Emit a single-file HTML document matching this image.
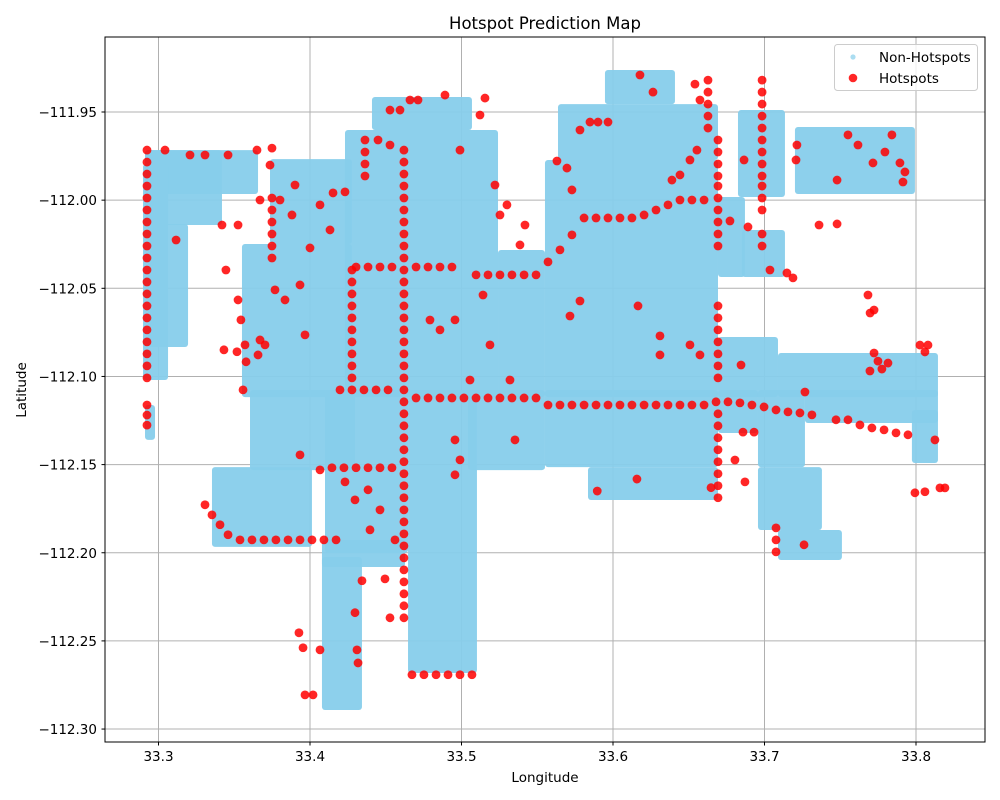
<!DOCTYPE html>
<html>
<head>
<meta charset="utf-8">
<style>
  html,body{margin:0;padding:0;background:#fff;}
  svg{display:block;font-family:"DejaVu Sans","Liberation Sans",sans-serif;}
</style>
</head>
<body>
<svg id="chart" width="1000" height="800" viewBox="0 0 1000 800" xmlns="http://www.w3.org/2000/svg">
  <rect x="0" y="0" width="1000" height="800" fill="#fff"/>
  <text x="545" y="29" text-anchor="middle" font-size="16.5" fill="#000">Hotspot Prediction Map</text>
  <g id="grid"></g>
  <g id="regions"></g>
  <g id="hots"></g>
  <rect x="105" y="37" width="880" height="705" fill="none" stroke="#000" stroke-width="1"/>
  <g id="xticks"></g>
  <g id="yticks"></g>
  <text x="545" y="782" text-anchor="middle" font-size="13.5">Longitude</text>
  <text x="26" y="390" text-anchor="middle" font-size="13.5" transform="rotate(-90 26 390)">Latitude</text>
  <g>
    <rect x="834.5" y="44.5" width="143" height="46" rx="3" fill="#fff" fill-opacity="0.8" stroke="#ccc"/>
    <circle cx="853" cy="57" r="2.6" fill="#87CEEB" fill-opacity="0.7"/>
    <text x="879" y="62" font-size="13.5">Non-Hotspots</text>
    <circle cx="853" cy="78" r="4.3" fill="#ff0000" fill-opacity="0.85"/>
    <text x="879" y="83" font-size="13.5">Hotspots</text>
  </g>
</svg>
<script>
const xTicks = [33.3, 33.4, 33.5, 33.6, 33.7, 33.8];
const xTickLabels = ["33.3", "33.4", "33.5", "33.6", "33.7", "33.8"];
const yTicks = [-111.95, -112.00, -112.05, -112.10, -112.15, -112.20, -112.25, -112.30];
const yTickLabels = ["\u2212111.95", "\u2212112.00", "\u2212112.05", "\u2212112.10", "\u2212112.15", "\u2212112.20", "\u2212112.25", "\u2212112.30"];

// Non-hotspot coverage regions (lon/lat bounds)
const regLon0 = [33.2911,33.2911,33.2898,33.2931,33.2911,33.3736,33.3551,33.3604,33.3353,33.4079,33.4079,33.4231,33.4409,33.5241,33.5551,33.5637,33.5947,33.4099,33.4647,33.5043,33.6825,33.6693,33.6851,33.7201,33.5551,33.5835,33.6693,33.7089,33.6693,33.6957,33.6957,33.7089,33.7267,33.7973];
const regLon1 = [33.3657,33.3419,33.3063,33.3195,33.2977,33.4277,33.4277,33.4297,33.4013,33.4343,33.4627,33.5241,33.5069,33.5551,33.6693,33.6693,33.6409,33.4647,33.5102,33.5551,33.7135,33.6871,33.7135,33.7993,33.6693,33.6693,33.7089,33.8145,33.6957,33.7267,33.7379,33.7511,33.8145,33.8145];
const regLat0 = [-111.9716,-111.9716,-111.9795,-112.0135,-112.1162,-111.9767,-112.0249,-112.1077,-112.1514,-112.2024,-112.1928,-111.9602,-111.9415,-112.0283,-111.9772,-111.9455,-111.9262,-112.1077,-112.1077,-112.1077,-111.9489,-111.9982,-112.0169,-111.9585,-112.1077,-112.1514,-112.0776,-112.0867,-112.1077,-112.1077,-112.1514,-112.1871,-112.1077,-112.1190];
const regLat1 = [-111.9965,-112.0141,-112.1020,-112.0833,-112.1360,-112.0249,-112.1117,-112.1531,-112.1967,-112.2892,-112.2081,-112.1117,-111.9602,-112.1117,-112.1117,-111.9772,-111.9455,-112.2001,-112.2682,-112.1531,-111.9982,-112.0436,-112.0436,-111.9965,-112.1514,-112.1701,-112.1117,-112.1117,-112.1321,-112.1514,-112.1871,-112.2041,-112.1264,-112.1491];

// Hotspot points
const hotLon = [
 // left vertical
 33.2924,33.2924,33.2924,33.2924,33.2924,33.2924,33.2924,33.2924,33.2924,33.2924,33.2924,33.2924,33.2924,33.2924,33.2924,33.2924,33.2924,33.2924,33.2924,33.2924,33.2924,33.2924,33.2924,
 // main vertical
 33.462,33.462,33.462,33.462,33.462,33.462,33.462,33.462,33.462,33.462,33.462,33.462,33.462,33.462,33.462,33.462,33.462,33.462,33.462,33.462,33.462,33.462,33.462,33.462,33.462,33.462,33.462,33.462,33.462,33.462,33.462,33.462,33.462,33.462,33.462,33.462,33.462,33.462,33.462,33.462,
 // upper horizontal
 33.4304,33.4383,33.4462,33.4541,33.4700,33.4779,33.4858,33.4937,
 33.5096,33.5175,33.5254,33.5333,33.5413,33.5492,
 33.5571,33.5650,33.5729,33.5809,33.5888,33.5967,33.6046,33.6125,33.6205,33.6284,33.6363,33.6442,33.6521,33.6601,
 // lower horizontal
 33.4198,33.4277,33.4356,33.4436,33.4515,
 33.4700,33.4779,33.4858,33.4937,33.5016,33.5096,33.5175,33.5254,33.5333,33.5413,33.5492,
 33.5571,33.5650,33.5729,33.5809,33.5888,33.5967,33.6046,33.6125,33.6205,33.6284,33.6363,33.6442,33.6521,33.6601,33.6680,33.6759,33.6838,33.6917,33.6997,33.7076,33.7155,33.7234,33.7313,33.7472,33.7551,33.7630,33.7709,33.7789,33.7868,33.7947,
 // vertical at 33.669
 33.6693,33.6693,33.6693,33.6693,33.6693,33.6693,33.6693,33.6693,33.6693,33.6693,33.6693,33.6693,33.6693,33.6693,33.6693,
 // vertical at 33.698
 33.6984,33.6984,33.6984,33.6984,33.6984,33.6984,33.6984,33.6984,33.6984,33.6984,33.6984,33.6984,33.6984,33.6984,
 // verticals near 33.66
 33.6627,33.6627,33.6627,33.6627,33.6627,
 33.6693,33.6693,33.6693,33.6693,33.6693,33.6693,33.6693,33.6693,33.6693,33.6693,
 // vertical 33.428
 33.4277,33.4277,33.4277,33.4277,33.4277,33.4277,33.4277,33.4277,33.4277,33.4277,
 33.4363,33.4363,33.4363,33.4363,
 33.3749,33.3749,33.3749,33.3749,33.3749,33.3749,
 // bottom curve
 33.3538,33.3617,33.3696,33.3775,33.3855,33.3934,33.4013,33.4092,33.4172,33.3307,33.3353,33.3406,33.3459,
 // bottom row
 33.4673,33.4752,33.4832,33.4911,33.4990,33.5069,
 // row 468
 33.4145,33.4224,33.4304,33.4383,33.4462,33.4541,
 // right bottom column
 33.7076,33.7076,33.7076,33.7261,
 33.8125,33.8158,33.7993,33.8059,33.8191,
 // right top cluster
 33.7551,33.7617,33.7716,33.7841,33.7894,33.7927,33.7914,33.7795,
 33.7214,33.7479,33.7479,33.7360,
 // top left
 33.3043,33.3208,33.3307,33.3459,33.3650,33.3749,33.3736,
 // top central
 33.4660,33.4713,33.4528,33.4594,33.4891,33.5155,33.5122,33.4449,33.4528,33.4990,33.5221,
 // top right block
 33.6178,33.6264,33.6541,33.6574,33.5848,33.5901,33.5967,33.5782,33.6554,33.6508,33.6442,33.6389,33.5630,33.5696,33.5729,33.6865,33.7208,
 // right middle
 33.6772,33.6891,33.7148,33.7036,33.7188,33.7697,33.7723,33.7683,
 33.7723,33.7749,33.7775,33.7815,33.7696,33.8026,33.8079,33.8059,
 33.6310,33.6574,33.7267,33.6508,33.6845,
 // left-middle scatter
 33.3419,33.3525,33.3116,33.3445,33.3525,33.3578,33.3558,33.3432,33.3703,33.3518,33.4000,33.4132,33.4066,33.4152,33.4231,33.3901,33.3802,33.3670,33.3881,33.3769,33.3835,33.3967,33.3934,33.3670,33.3571,33.3657,33.3544,
 // lower-middle scatter
 33.3934,33.4066,33.4231,33.4297,33.4383,33.4462,33.4396,33.4561,33.4495,33.4528,33.4343,33.4297,33.3927,33.3954,33.4066,33.3967,33.4020,33.4310,33.4317,
 // central scatter
 33.4792,33.4858,33.4957,33.5188,33.5056,33.5320,33.5142,33.5386,33.5419,33.5254,33.5300,33.4957,33.4990,33.4957,33.5353,33.5716,33.5782,33.6165,33.6310,
 // lower right scatter
 33.6158,33.6858,33.6931,33.6805,33.6871,33.5896,33.6647
];
const hotLat = [
 -111.9716,-111.9784,-111.9852,-111.9920,-111.9988,-112.0056,-112.0124,-112.0192,-112.0260,-112.0328,-112.0396,-112.0464,-112.0532,-112.0600,-112.0668,-112.0736,-112.0804,-112.0872,-112.0940,-112.1008,-112.1162,-112.1219,-112.1276,
 -111.9716,-111.9784,-111.9852,-111.9920,-111.9988,-112.0056,-112.0124,-112.0192,-112.0260,-112.0328,-112.0396,-112.0464,-112.0532,-112.0600,-112.0668,-112.0736,-112.0804,-112.0872,-112.0940,-112.1008,-112.1076,-112.1144,-112.1212,-112.1280,-112.1348,-112.1416,-112.1484,-112.1552,-112.1620,-112.1688,-112.1757,-112.1825,-112.1893,-112.1961,-112.2029,-112.2097,-112.2165,-112.2233,-112.2301,-112.2369,
 -112.0379,-112.0379,-112.0379,-112.0379,-112.0379,-112.0379,-112.0379,-112.0379,
 -112.0424,-112.0424,-112.0424,-112.0424,-112.0424,-112.0424,
 -112.0350,-112.0282,-112.0197,-112.0101,-112.0101,-112.0101,-112.0101,-112.0101,-112.0084,-112.0056,-112.0027,-111.9999,-111.9999,-111.9999,
 -112.1076,-112.1076,-112.1076,-112.1076,-112.1076,
 -112.1122,-112.1122,-112.1122,-112.1122,-112.1122,-112.1122,-112.1122,-112.1122,-112.1122,-112.1122,-112.1122,
 -112.1162,-112.1162,-112.1162,-112.1162,-112.1162,-112.1162,-112.1162,-112.1162,-112.1162,-112.1162,-112.1162,-112.1162,-112.1162,-112.1162,-112.1144,-112.1144,-112.1150,-112.1162,-112.1173,-112.1190,-112.1201,-112.1207,-112.1218,-112.1246,-112.1246,-112.1275,-112.1292,-112.1303,-112.1320,-112.1331,
 -112.0600,-112.0668,-112.0736,-112.0804,-112.0872,-112.0940,-112.1008,-112.1212,-112.1280,-112.1348,-112.1416,-112.1484,-112.1552,-112.1620,-112.1688,
 -111.9319,-111.9387,-111.9455,-111.9523,-111.9591,-111.9659,-111.9727,-111.9795,-111.9863,-111.9920,-111.9988,-112.0056,-112.0192,-112.0260,
 -111.9319,-111.9387,-111.9455,-111.9523,-111.9591,
 -111.9659,-111.9727,-111.9795,-111.9863,-111.9920,-111.9988,-112.0056,-112.0124,-112.0192,-112.0260,
 -112.0396,-112.0464,-112.0532,-112.0600,-112.0668,-112.0736,-112.0804,-112.0872,-112.0940,-112.1008,
 -111.9659,-111.9727,-111.9795,-111.9863,
 -111.9988,-112.0056,-112.0124,-112.0192,-112.0260,-112.0328,
 -112.1927,-112.1927,-112.1927,-112.1927,-112.1927,-112.1927,-112.1927,-112.1927,-112.1927,-112.1728,-112.1785,-112.1841,-112.1898,
 -112.2692,-112.2692,-112.2692,-112.2692,-112.2692,-112.2692,
 -112.1518,-112.1518,-112.1518,-112.1518,-112.1518,-112.1518,
 -112.1859,-112.1927,-112.1995,-112.1955,
 -112.1360,-112.1632,-112.1660,-112.1654,-112.1632,
 -111.9630,-111.9687,-111.9789,-111.9630,-111.9789,-111.9840,-111.9897,-111.9727,
 -111.9687,-111.9886,-112.0135,-112.0141,
 -111.9716,-111.9744,-111.9744,-111.9744,-111.9716,-111.9705,-111.9801,
 -111.9432,-111.9432,-111.9489,-111.9489,-111.9404,-111.9421,-111.9517,-111.9659,-111.9687,-111.9716,-111.9914,
 -111.9290,-111.9387,-111.9342,-111.9432,-111.9557,-111.9557,-111.9557,-111.9602,-111.9716,-111.9772,-111.9857,-111.9886,-111.9778,-111.9818,-111.9942,-111.9772,-111.9772,
 -112.0118,-112.0152,-112.0413,-112.0396,-112.0441,-112.0640,-112.0623,-112.0538,
 -112.0867,-112.0913,-112.0958,-112.0924,-112.0969,-112.0822,-112.0822,-112.0861,
 -112.0878,-112.0878,-112.1088,-112.0821,-112.0935,
 -112.0141,-112.0141,-112.0226,-112.0396,-112.0566,-112.0917,-112.1076,-112.0849,-112.0821,-112.0860,-112.0271,-112.0169,-112.0027,-111.9959,-111.9953,-111.9914,-111.9999,-111.9999,-112.0084,-112.0509,-112.0566,-112.0764,-112.0481,-112.0793,-112.0821,-112.0878,-112.0679,
 -112.1445,-112.1530,-112.1598,-112.1700,-112.1643,-112.1757,-112.1870,-112.1927,-112.2148,-112.2369,-112.2159,-112.2340,-112.2454,-112.2539,-112.2551,-112.2806,-112.2806,-112.2551,-112.2625,
 -112.0680,-112.0736,-112.0679,-112.0821,-112.1020,-112.1020,-112.0538,-112.0254,-112.0141,-112.0084,-112.0027,-112.1360,-112.1473,-112.1558,-112.1360,-112.0657,-112.0572,-112.0600,-112.0770,
 -112.1582,-112.1316,-112.1316,-112.1474,-112.1598,-112.1650,-112.1631
];

const NS = "http://www.w3.org/2000/svg";
const X0 = 158.5, XS = 1515;   // px per degree lon
const Y0 = 112, YS = 1763;     // px per degree lat
function xScale(lon){ return X0 + (lon - 33.3) * XS; }
function yScale(lat){ return Y0 + (-111.95 - lat) * YS; }
function mk(tag, attrs, parent){
  const e = document.createElementNS(NS, tag);
  for (const k in attrs) e.setAttribute(k, attrs[k]);
  parent.appendChild(e);
  return e;
}
const grid = document.getElementById('grid');
const xt = document.getElementById('xticks');
const yt = document.getElementById('yticks');

xTicks.forEach((v, i) => {
  const x = xScale(v);
  const gl = mk('line', {x1:x, x2:x, y1:37, y2:742, stroke:'#b0b0b0', 'stroke-width':1}, grid);
  
  
  const tk = mk('line', {x1:x, x2:x, y1:742, y2:745.5, stroke:'#000', 'stroke-width':1}, xt);
  
  
  const t = mk('text', {x:x, y:761, 'text-anchor':'middle', 'font-size':13.5}, xt);
  t.textContent = xTickLabels[i];
  
  
});
yTicks.forEach((v, i) => {
  const y = yScale(v);
  const gl = mk('line', {x1:105, x2:985, y1:y, y2:y, stroke:'#b0b0b0', 'stroke-width':1}, grid);
  
  
  const tk = mk('line', {x1:101.5, x2:105, y1:y, y2:y, stroke:'#000', 'stroke-width':1}, yt);
  
  
  const t = mk('text', {x:97, y:y + 5, 'text-anchor':'end', 'font-size':13.5}, yt);
  t.textContent = yTickLabels[i];
  
  
});

const regG = document.getElementById('regions');
regLon0.forEach((l0, i) => {
  const x0 = xScale(l0), x1 = xScale(regLon1[i]);
  const y0 = yScale(regLat0[i]), y1 = yScale(regLat1[i]);
  const r = mk('rect', {x:x0, y:y0, width:x1 - x0, height:y1 - y0, rx:3, fill:'#87CEEB', 'fill-opacity':0.95}, regG);
  
  
});

const hotG = document.getElementById('hots');
hotLon.forEach((lon, i) => {
  const c = mk('circle', {cx:xScale(lon), cy:yScale(hotLat[i]), r:4.4, fill:'#ff0000', 'fill-opacity':0.85}, hotG);
  
  
});
</script>
</body>
</html>
